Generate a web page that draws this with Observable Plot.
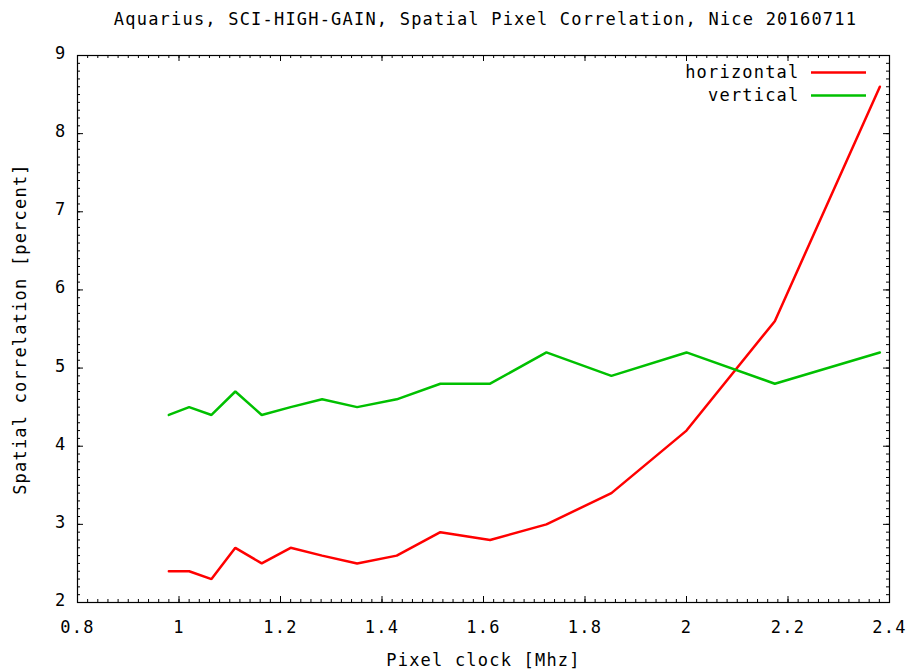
<!DOCTYPE html>
<html>
<head>
<meta charset="utf-8">
<script src="https://cdn.jsdelivr.net/npm/d3@7"></script>
<script src="https://cdn.jsdelivr.net/npm/@observablehq/plot@0.6"></script>
<style>
  html, body { margin: 0; padding: 0; background: #fff; }
  svg text { letter-spacing: 1.2px; }
</style>
</head>
<body>
<div id="chart"></div>
<script>
// Pixel clock settings [MHz] and measured spatial pixel correlation [%]
const pixelClock = [0.98, 1.02, 1.064, 1.111, 1.163, 1.22, 1.282, 1.351, 1.429, 1.515, 1.613, 1.724, 1.852, 2.0, 2.174, 2.381];
const horizontal = [2.4, 2.4, 2.3, 2.7, 2.5, 2.7, 2.6, 2.5, 2.6, 2.9, 2.8, 3.0, 3.4, 4.2, 5.6, 8.6];
const vertical   = [4.4, 4.5, 4.4, 4.7, 4.4, 4.5, 4.6, 4.5, 4.6, 4.8, 4.8, 5.2, 4.9, 5.2, 4.8, 5.2];

const seriesNames = ["horizontal", "vertical"];
const seriesColors = ["#ff0000", "#00c000"];

const xTicks = [0.8, 1, 1.2, 1.4, 1.6, 1.8, 2, 2.2, 2.4];
const yTicks = [2, 3, 4, 5, 6, 7, 8, 9];

const titleText = "Aquarius, SCI-HIGH-GAIN, Spatial Pixel Correlation, Nice 20160711";
const xLabel = "Pixel clock [Mhz]";
const yLabel = "Spatial correlation [percent]";

const rows = [];
[horizontal, vertical].forEach((vals, s) => {
  vals.forEach((v, i) => rows.push({series: seriesNames[s], clock: pixelClock[i], value: v}));
});

const W = 913, H = 671;
const margin = {top: 55, right: 24, bottom: 69, left: 77};
const frameW = W - margin.left - margin.right;
const frameH = H - margin.top - margin.bottom;
const xDomain = [xTicks[0], xTicks[xTicks.length - 1]];
const yDomain = [yTicks[0], yTicks[yTicks.length - 1]];
const xMinor = d3.ticks(xDomain[0], xDomain[1], 80);
const yMinor = d3.ticks(yDomain[0], yDomain[1], 70);

const font = "DejaVu Sans Mono";
const fs = 17;
const major = 6, minor = 3;

const marks = [
  // inward tick marks on all four sides
  Plot.ruleX(xMinor, {insetTop: frameH - minor, stroke: "black"}),
  Plot.ruleX(xMinor, {insetBottom: frameH - minor, stroke: "black"}),
  Plot.ruleX(xTicks, {insetTop: frameH - major, stroke: "black"}),
  Plot.ruleX(xTicks, {insetBottom: frameH - major, stroke: "black"}),
  Plot.ruleY(yMinor, {insetRight: frameW - minor, stroke: "black"}),
  Plot.ruleY(yMinor, {insetLeft: frameW - minor, stroke: "black"}),
  Plot.ruleY(yTicks, {insetRight: frameW - major, stroke: "black"}),
  Plot.ruleY(yTicks, {insetLeft: frameW - major, stroke: "black"}),
  Plot.frame({stroke: "black", strokeWidth: 1.2}),
  // data
  Plot.line(rows, {x: "clock", y: "value", z: "series", stroke: "series", strokeWidth: 2.5, strokeLinejoin: "miter"}),
  // tick labels
  Plot.text(xTicks, {x: d => d, frameAnchor: "bottom", lineAnchor: "middle", dy: 25, text: d => String(d), fontSize: fs}),
  Plot.text(yTicks, {y: d => d, frameAnchor: "left", lineAnchor: "middle", dx: -11, dy: -2, textAnchor: "end", text: d => String(d), fontSize: fs}),
  // axis titles and chart title
  Plot.text([xLabel], {frameAnchor: "bottom", lineAnchor: "middle", dy: 58, text: d => d, fontSize: fs}),
  Plot.text([yLabel], {frameAnchor: "left", textAnchor: "middle", lineAnchor: "middle", dx: -57, rotate: -90, text: d => d, fontSize: fs}),
  Plot.text([titleText], {frameAnchor: "top", lineAnchor: "middle", dx: 2, dy: -36, text: d => d, fontSize: fs}),
  // key in the top-right corner
  ...seriesNames.flatMap((name, i) => [
    Plot.text([name], {frameAnchor: "top-right", lineAnchor: "middle", dx: -90, dy: 17 + 23 * i, textAnchor: "end", text: d => d, fontSize: fs}),
    Plot.ruleY([yDomain[1]], {dy: 17 + 23 * i, insetLeft: 811 - margin.left, insetRight: margin.left + frameW - 866, stroke: seriesColors[i], strokeWidth: 2.5})
  ])
];

const chart = Plot.plot({
  width: W,
  height: H,
  marginTop: margin.top,
  marginRight: margin.right,
  marginBottom: margin.bottom,
  marginLeft: margin.left,
  style: {fontFamily: font, fontSize: fs + "px", background: "white", color: "black"},
  x: {domain: xDomain, axis: null},
  y: {domain: yDomain, axis: null},
  color: {domain: seriesNames, range: seriesColors},
  marks
});
document.getElementById("chart").appendChild(chart);
</script>
</body>
</html>
